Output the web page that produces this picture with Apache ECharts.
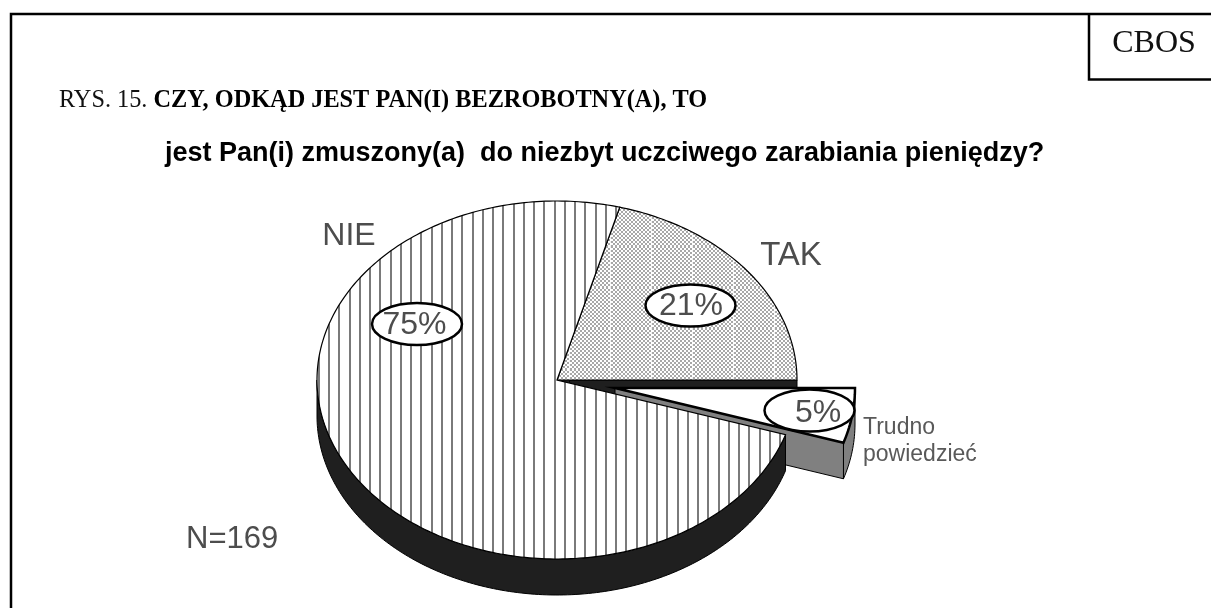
<!DOCTYPE html>
<html>
<head>
<meta charset="utf-8">
<title>CBOS RYS. 15</title>
<script src="https://cdn.jsdelivr.net/npm/echarts@6/dist/echarts.min.js"></script>
<style>
html, body { margin: 0; padding: 0; background: #fff; }
#chart { width: 1211px; height: 608px; }
</style>
</head>
<body>
<div id="chart"></div>
<script>
var categories = ['TAK', 'NIE', 'Trudno\npowiedzieć'];
var values = [21, 75, 5];
var valueLabels = ['21%', '75%', '5%'];
var sampleLabel = 'N=169';
var figureNo = 'RYS. 15. ';
var figureTitle = 'CZY, ODKĄD JEST PAN(I) BEZROBOTNY(A), TO';
var question = 'jest Pan(i) zmuszony(a)  do niezbyt uczciwego zarabiania pieniędzy?';
var sourceLabel = 'CBOS';

// wyglad wycinkow
var SANS = '"Liberation Sans", Arial, sans-serif';
var SERIF = '"Liberation Serif", "Times New Roman", serif';
var cx = 557, cy = 380, rx = 240, ry = 179, depth = 36;
var explodeDx = 58, explodeDy = 8;
var explodedSlices = [false, false, true];
var wallColors = ['#1f1f1f', '#1f1f1f', '#808080'];
var ovalPos = [[690.5, 305.5], [417, 324], [809.5, 410.5]];
var percentPos = [[691, 306.5], [414.5, 325.5], [818, 413.5]];
var namePos = [[791, 256, 33], [349, 236.5, 32], [863, 441, 23]];

var total = values.reduce(function(a, b) { return a + b; }, 0);

function tile(size, draw) {
	var c = document.createElement('canvas');
	c.width = size;
	c.height = size;
	draw(c.getContext('2d'));
	return c;
}

// pionowe kreski (NIE)
var stripes = tile(41, function(g) {
	g.fillStyle = '#fff';
	g.fillRect(0, 0, 41, 41);
	g.fillStyle = '#7a7a7a';
	[0, 10, 21, 31].forEach(function(x) {
		g.fillRect(x, 0, 2, 41);
	});
});

// krateczka (TAK), co 41 px jasniejsza kolumna
var checks = tile(41, function(g) {
	g.fillStyle = '#fff';
	g.fillRect(0, 0, 41, 41);
	for (var y = 0; y < 41; y++) {
		for (var x = 0; x < 41; x++) {
			var k = (x + 4) % 41;
			if ((Math.floor(k / 2) + Math.floor(y / 2)) % 2 === 0) {
				g.fillStyle = k === 40 ? '#f0f0f0' : '#a8a8a8';
				g.fillRect(x, y, 1, 1);
			}
		}
	}
});

var fills = [{ image: checks, repeat: 'repeat' }, { image: stripes, repeat: 'repeat' }, '#fff'];
var borderWidths = [1.2, 1.2, 2.5];

function sliceAngles(index) {
	var before = 0;
	for (var i = 0; i < index; i++) before += values[i];
	return [
		echarts.number.linearMap(before, [0, total], [0, 360]),
		echarts.number.linearMap(before + values[index], [0, total], [0, 360])
	];
}

function rimPoint(deg, ox, oy) {
	var r = deg * Math.PI / 180;
	return [ox + rx * Math.cos(r), oy - ry * Math.sin(r)];
}

function arcPoints(from, to, ox, oy) {
	var pts = [];
	var n = Math.max(2, Math.ceil(Math.abs(to - from)));
	for (var i = 0; i <= n; i++) {
		pts.push(rimPoint(from + (to - from) * i / n, ox, oy));
	}
	return pts;
}

function renderSlice(params, api) {
	var index = params.dataIndex;
	var a = sliceAngles(index);
	var exploded = explodedSlices[index];
	var ox = cx + (exploded ? explodeDx : 0);
	var oy = cy + (exploded ? explodeDy : 0);
	var children = [];

	// scianka od strony ciecia
	var edge = rimPoint(a[0], ox, oy);
	children.push({
		type: 'polygon',
		z2: exploded ? 2 : 1,
		shape: { points: [[ox, oy], edge, [edge[0], edge[1] + depth], [ox, oy + depth]] },
		style: { fill: wallColors[index], stroke: '#000', lineWidth: 1 }
	});

	// scianka boczna, tylko dolna polowa elipsy
	var from = Math.max(a[0], 180), to = Math.min(a[1], 360);
	if (to > from) {
		var top = arcPoints(from, to, ox, oy);
		var bottom = arcPoints(to, from, ox, oy + depth);
		children.push({
			type: 'polygon',
			z2: exploded ? 2 : 3,
			shape: { points: top.concat(bottom) },
			style: { fill: wallColors[index], stroke: '#000', lineWidth: 1 }
		});
	}

	// wierzch wycinka
	children.push({
		type: 'polygon',
		z2: exploded ? 5 : 4,
		shape: { points: [[ox, oy]].concat(arcPoints(a[0], a[1], ox, oy)) },
		style: { fill: fills[index], stroke: '#000', lineWidth: borderWidths[index], lineJoin: 'miter' }
	});

	// owal z procentem
	children.push({
		type: 'ellipse',
		z2: 6,
		shape: { cx: ovalPos[index][0], cy: ovalPos[index][1], rx: 45, ry: 21 },
		style: { fill: '#fff', stroke: '#000', lineWidth: 2.5 }
	});
	children.push({
		type: 'text',
		z2: 7,
		style: {
			text: valueLabels[index], x: percentPos[index][0], y: percentPos[index][1],
			align: 'center', verticalAlign: 'middle',
			font: '32px ' + SANS, fill: '#4d4d4d'
		}
	});

	// nazwa kategorii
	var small = namePos[index][2] < 30;
	children.push({
		type: 'text',
		z2: 7,
		style: {
			text: categories[index], x: namePos[index][0], y: namePos[index][1],
			align: small ? 'left' : 'center', verticalAlign: 'middle',
			font: namePos[index][2] + 'px ' + SANS, lineHeight: 27, fill: small ? '#595959' : '#4d4d4d'
		}
	});

	return { type: 'group', children: children };
}

var chart = echarts.init(document.getElementById('chart'));
var option = {
	animation: false,
	backgroundColor: '#fff',
	title: [{
		text: '{a|' + figureNo + '}{b|' + figureTitle + '}',
		left: 54,
		top: 84,
		textStyle: {
			rich: {
				a: { fontFamily: SERIF, fontSize: 24.3, fontWeight: 'normal', color: '#111' },
				b: { fontFamily: SERIF, fontSize: 24.3, fontWeight: 'bold', color: '#000' }
			}
		}
	}, {
		text: question,
		left: 160,
		top: 135,
		textStyle: { fontFamily: SANS, fontSize: 27, fontWeight: 'bold', color: '#000' }
	}],
	graphic: [
		{ type: 'polyline', silent: true, shape: { points: [[11, 608], [11, 14], [1211, 14]] }, style: { fill: 'none', stroke: '#000', lineWidth: 2.5 } },
		{ type: 'polyline', silent: true, shape: { points: [[1089, 14], [1089, 79.5], [1211, 79.5]] }, style: { fill: 'none', stroke: '#000', lineWidth: 2.5 } },
		{ type: 'text', silent: true, style: { text: sourceLabel, x: 1154, y: 44, align: 'center', verticalAlign: 'middle', font: '32px ' + SERIF, fill: '#111' } },
		{ type: 'text', silent: true, style: { text: sampleLabel, x: 186, y: 539, align: 'left', verticalAlign: 'middle', font: '31px ' + SANS, fill: '#4d4d4d' } }
	],
	series: [{
		type: 'custom',
		coordinateSystem: 'none',
		silent: true,
		data: values,
		renderItem: renderSlice
	}]
};
chart.setOption(option);
</script>
</body>
</html>
